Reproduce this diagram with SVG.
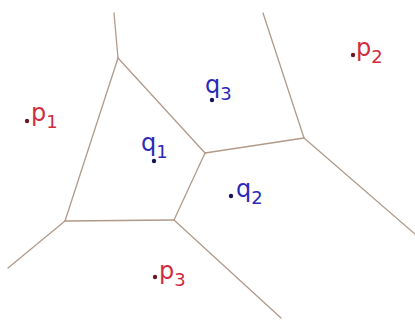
<svg xmlns="http://www.w3.org/2000/svg" width="415" height="320" viewBox="0 0 415 320">
<style>
.e{stroke:#b29a8a;stroke-width:1.3;fill:none;stroke-linecap:round}
.lbl{font-family:"DejaVu Sans",sans-serif;font-size:24px}
.sub{font-size:18px}
.r{fill:#cf2d3e}
.b{fill:#2a2ab8}
.dr{fill:#6a1a24}
.db{fill:#14145a}
</style>
<rect width="415" height="320" fill="#ffffff"/>
<g id="connectors">
<polyline class="e" points="114,13 118,58"/>
<polyline class="e" points="118,58 65,221"/>
<polyline class="e" points="118,58 205,153"/>
<polyline class="e" points="205,153 304,138"/>
<polyline class="e" points="304,138 263,13"/>
<polyline class="e" points="304,138 415,234"/>
<polyline class="e" points="205,153 174,220"/>
<polyline class="e" points="65,221 174,220"/>
<polyline class="e" points="65,221 8,268"/>
<polyline class="e" points="174,220 281,318"/>
</g>
<g id="p1"><circle class="dr" cx="27" cy="121" r="2.2"/><text class="lbl r" x="31" y="121">p<tspan class="sub" dy="7">1</tspan></text></g>
<g id="p2"><circle class="dr" cx="353" cy="55" r="2.2"/><text class="lbl r" x="356" y="56">p<tspan class="sub" dy="7">2</tspan></text></g>
<g id="p3"><circle class="dr" cx="155" cy="277" r="2.2"/><text class="lbl r" x="159" y="279">p<tspan class="sub" dy="7">3</tspan></text></g>
<g id="q1"><circle class="db" cx="154" cy="161" r="2.2"/><text class="lbl b" x="141" y="151">q<tspan class="sub" dy="7">1</tspan></text></g>
<g id="q2"><circle class="db" cx="231" cy="196" r="2.2"/><text class="lbl b" x="236" y="197">q<tspan class="sub" dy="7">2</tspan></text></g>
<g id="q3"><circle class="db" cx="212" cy="100" r="2.2"/><text class="lbl b" x="205" y="93">q<tspan class="sub" dy="7">3</tspan></text></g>
</svg>
